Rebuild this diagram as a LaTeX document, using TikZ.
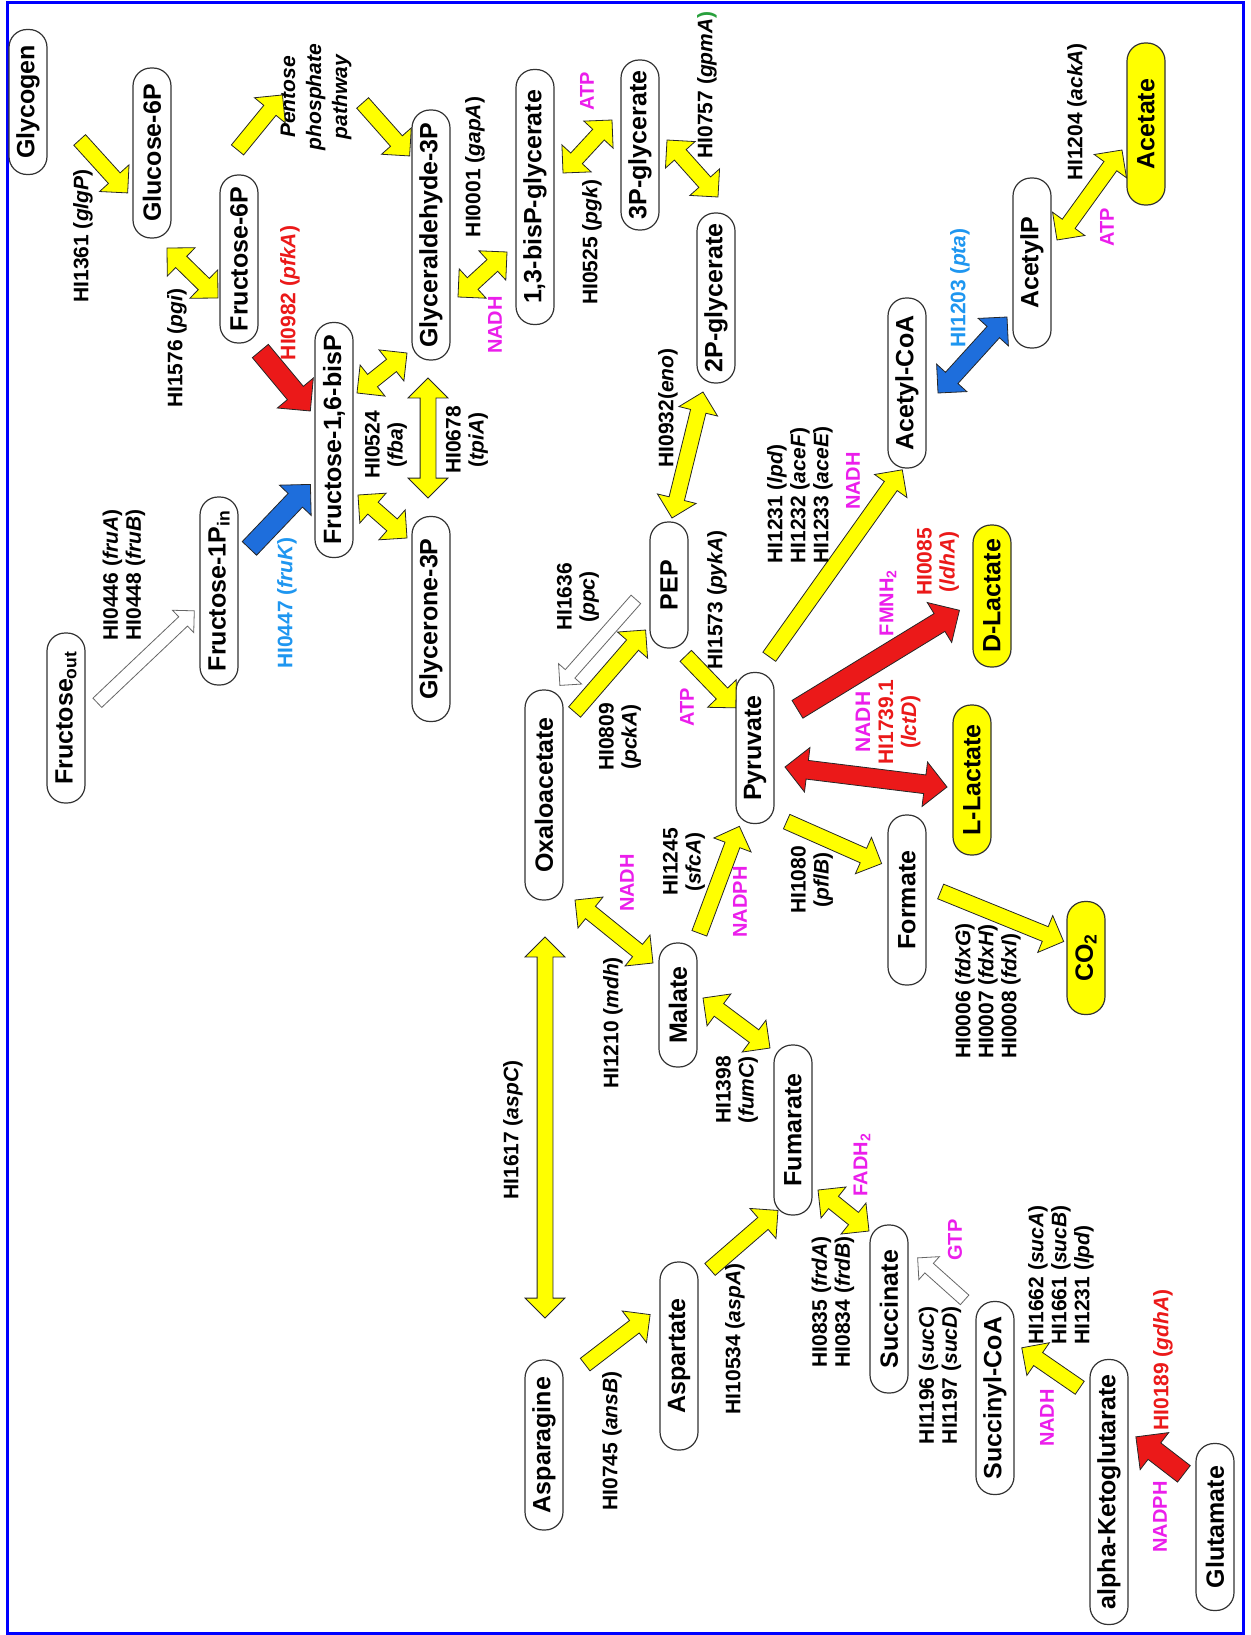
\documentclass[tikz,border=0pt]{standalone}
\usepackage{fontspec}
\setmainfont{Liberation Sans}
\usetikzlibrary{shapes.arrows,calc}
\definecolor{ylw}{RGB}{255,255,0}
\definecolor{rd}{RGB}{235,25,25}
\definecolor{bl}{RGB}{30,110,220}
\definecolor{ltbl}{RGB}{30,150,240}
\definecolor{mag}{RGB}{235,30,235}
\definecolor{frm}{RGB}{0,0,255}
\definecolor{grn}{RGB}{40,160,60}
\newcommand\blk[3]{\path let \p1=($(#3)-(#2)$), \n1={atan2(\y1,\x1)}, \n2={veclen(\x1,\y1)} in
  node[#1, minimum height=\n2, rotate=\n1] at ($(#2)!0.5!(#3)$) {};}
\tikzset{
  met/.style={draw=black!80, line width=1.2pt, fill=white, rounded corners=18pt, minimum height=38pt,
    inner sep=0pt, rotate=90, font=\fontsize{25}{28}\selectfont\bfseries},
  ymet/.style={met, fill=ylw},
  gene/.style={rotate=90, font=\fontsize{21}{23}\selectfont\bfseries, inner sep=0pt, align=center},
  cof/.style={rotate=90, font=\fontsize{20}{23}\selectfont\bfseries, text=mag, inner sep=0pt},
  arrbase/.style={draw=black!85, line width=0.8pt, inner xsep=0pt, outer sep=0pt},
  ys/.style={arrbase, single arrow, inner ysep=7.5pt, single arrow head extend=12pt, single arrow tip angle=90, fill=ylw},
  yd/.style={arrbase, double arrow, inner ysep=7.5pt, double arrow head extend=12pt, double arrow tip angle=90, fill=ylw},
  rs/.style={arrbase, single arrow, inner ysep=10pt, single arrow head extend=13pt, single arrow tip angle=90, fill=rd},
  rdd/.style={arrbase, double arrow, inner ysep=9pt, double arrow head extend=13pt, double arrow tip angle=90, fill=rd},
  bs/.style={arrbase, single arrow, inner ysep=9.5pt, single arrow head extend=12pt, single arrow tip angle=90, fill=bl},
  bdd/.style={arrbase, double arrow, inner ysep=8pt, double arrow head extend=12pt, double arrow tip angle=90, fill=bl},
  ws/.style={arrbase, draw=black!60, single arrow, inner ysep=6pt, single arrow head extend=9pt, single arrow tip angle=90, fill=white},
}
\begin{document}
\begin{tikzpicture}[x=1pt,y=-1pt]
\useasboundingbox (0,0) rectangle (1250,1635);
\draw[frm, line width=3pt] (7,3) rectangle (1243,1633);

% metabolites
\node[met, minimum width=145pt] (glycogen) at (28,102) {Glycogen};
\node[met, minimum width=170pt] (g6p) at (152,153) {Glucose-6P};
\node[met, minimum width=168pt] (f6p) at (239,259) {Fructose-6P};
\node[met, minimum width=235pt] (fbp) at (334,440) {Fructose-1,6-bisP};
\node[met, minimum width=250pt] (gap) at (431,235) {Glyceraldehyde-3P};
\node[met, minimum width=205pt] (dhap) at (431,619) {Glycerone-3P};
\node[met, minimum width=255pt] (bpg) at (535,197) {1,3-bisP-glycerate};
\node[met, minimum width=170pt] (pg3) at (640,145) {3P-glycerate};
\node[met, minimum width=170pt] (pg2) at (716,298) {2P-glycerate};
\node[met, minimum width=170pt] (fruout) at (66,718) {Fructose\textsubscript{out}};
\node[met, minimum width=188pt] (fru1p) at (219,591) {Fructose-1P\textsubscript{in}};
\node[met, minimum width=126pt] (pep) at (669,585) {PEP};
\node[met, minimum width=210pt] (oaa) at (544,795) {Oxaloacetate};
\node[met, minimum width=151pt] (pyr) at (755,748) {Pyruvate};
\node[met, minimum width=170pt] (acoa) at (907,383) {Acetyl-CoA};
\node[met, minimum width=170pt] (acp) at (1032,263) {AcetylP};
\node[ymet, minimum width=162pt] (ace) at (1146,124) {Acetate};
\node[ymet, minimum width=142pt] (dlac) at (992,596) {D-Lactate};
\node[ymet, minimum width=150pt] (llac) at (972,780) {L-Lactate};
\node[met, minimum width=170pt] (form) at (907,900) {Formate};
\node[ymet, minimum width=113pt] (co2) at (1086,958) {CO\textsubscript{2}};
\node[met, minimum width=124pt] (mal) at (678,1005) {Malate};
\node[met, minimum width=170pt] (fum) at (793,1130) {Fumarate};
\node[met, minimum width=170pt] (asn) at (544,1445) {Asparagine};
\node[met, minimum width=188pt] (asp) at (679,1356) {Aspartate};
\node[met, minimum width=168pt] (suc) at (889,1309) {Succinate};
\node[met, minimum width=193pt] (sca) at (995,1398) {Succinyl-CoA};
\node[met, minimum width=265pt] (akg) at (1109,1492) {alpha-Ketoglutarate};
\node[met, minimum width=167pt] (glu) at (1215,1527) {Glutamate};
\node[gene, font=\fontsize{21}{26}\selectfont\bfseries\itshape] (ppp) at (316,97) {Pentose\\phosphate\\pathway};

% arrow end points
\coordinate (c1a) at (77,137);   \coordinate (c1b) at (125,190);
\coordinate (c2a) at (167,248);  \coordinate (c2b) at (218,298);
\coordinate (c3a) at (235,153);  \coordinate (c3b) at (280,98);
\coordinate (c4a) at (360,100);  \coordinate (c4b) at (407,153);
\coordinate (c5a) at (257,347);  \coordinate (c5b) at (307,407);
\coordinate (c6a) at (357,393);  \coordinate (c6b) at (407,353);
\coordinate (c7a) at (358,495);  \coordinate (c7b) at (407,538);
\coordinate (c8a) at (428,378);  \coordinate (c8b) at (428,498);
\coordinate (c9a) at (458,297);  \coordinate (c9b) at (507,252);
\coordinate (c10a) at (563,173); \coordinate (c10b) at (612,120);
\coordinate (c11a) at (667,140); \coordinate (c11b) at (718,197);
\coordinate (c12a) at (703,392); \coordinate (c12b) at (672,518);
\coordinate (c13a) at (638,597); \coordinate (c13b) at (562,683);
\coordinate (c14a) at (572,715); \coordinate (c14b) at (643,633);
\coordinate (c15a) at (683,653); \coordinate (c15b) at (733,705);
\coordinate (c16a) at (767,660); \coordinate (c16b) at (900,473);
\coordinate (c17a) at (938,393); \coordinate (c17b) at (1007,317);
\coordinate (c18a) at (1057,240);\coordinate (c18b) at (1122,150);
\coordinate (c19a) at (793,712); \coordinate (c19b) at (955,613);
\coordinate (c20a) at (785,767); \coordinate (c20b) at (947,787);
\coordinate (c21a) at (783,820); \coordinate (c21b) at (878,862);
\coordinate (c22a) at (937,890); \coordinate (c22b) at (1060,940);
\coordinate (c23a) at (575,900); \coordinate (c23b) at (653,963);
\coordinate (c24a) at (698,937); \coordinate (c24b) at (738,830);
\coordinate (c25a) at (703,998); \coordinate (c25b) at (770,1048);
\coordinate (c26a) at (545,937); \coordinate (c26b) at (545,1318);
\coordinate (c27a) at (582,1367);\coordinate (c27b) at (647,1317);
\coordinate (c28a) at (707,1272);\coordinate (c28b) at (775,1213);
\coordinate (c29a) at (818,1190);\coordinate (c29b) at (869,1231);
\coordinate (c30a) at (967,1302);\coordinate (c30b) at (920,1260);
\coordinate (c31a) at (1083,1390);\coordinate (c31b) at (1025,1350);
\coordinate (c32a) at (1188,1477);\coordinate (c32b) at (1140,1440);
\coordinate (c33a) at (95,705);  \coordinate (c33b) at (192,613);
\coordinate (c34a) at (246,552); \coordinate (c34b) at (307,488);

% arrows
\blk{ys}{c1a}{c1b}
\blk{yd}{c2a}{c2b}
\blk{ys}{c3a}{c3b}
\blk{ys}{c4a}{c4b}
\blk{rs}{c5a}{c5b}
\blk{yd}{c6a}{c6b}
\blk{yd}{c7a}{c7b}
\blk{yd}{c8a}{c8b}
\blk{yd}{c9a}{c9b}
\blk{yd}{c10a}{c10b}
\blk{yd}{c11a}{c11b}
\blk{yd}{c12a}{c12b}
\blk{ws}{c13a}{c13b}
\blk{ys}{c14a}{c14b}
\blk{ys}{c15a}{c15b}
\blk{ys}{c16a}{c16b}
\blk{bdd}{c17a}{c17b}
\blk{yd}{c18a}{c18b}
\blk{rs}{c19a}{c19b}
\blk{rdd}{c20a}{c20b}
\blk{ys}{c21a}{c21b}
\blk{ys}{c22a}{c22b}
\blk{yd}{c23a}{c23b}
\blk{ys}{c24a}{c24b}
\blk{yd}{c25a}{c25b}
\blk{yd}{c26a}{c26b}
\blk{ys}{c27a}{c27b}
\blk{ys}{c28a}{c28b}
\blk{yd}{c29a}{c29b}
\blk{ws}{c30a}{c30b}
\blk{ys}{c31a}{c31b}
\blk{rs}{c32a}{c32b}
\blk{ws}{c33a}{c33b}
\blk{bs}{c34a}{c34b}

% enzyme labels
\node[gene] (l1) at (83,236) {HI1361 (\textit{glgP})};
\node[gene] (l2) at (177,348) {HI1576 (\textit{pgi})};
\node[gene, text=rd] (l3) at (290,293) {HI0982 (\textit{pfkA})};
\node[gene] (l4) at (475,167) {HI0001 (\textit{gapA})};
\node[cof] (l5) at (495,325) {NADH};
\node[gene] (l6) at (592,242) {HI0525 (\textit{pgk})};
\node[cof] (l7) at (587,91) {ATP};
\node[gene] (l8) at (707,85) {HI0757 (\textit{gpmA}\textcolor{grn}{)}};
\node[gene] (l9) at (668,408) {HI0932(\textit{eno})};
\node[gene, align=left] (l10) at (124,575) {HI0446 (\textit{fruA})\\HI0448 (\textit{fruB})};
\node[gene, text=ltbl] (l11) at (287,603) {HI0447 (\textit{fruK})};
\node[gene] (l12) at (386,445) {HI0524\\(\textit{fba})};
\node[gene] (l13) at (467,440) {HI0678\\(\textit{tpiA})};
\node[gene] (l14) at (578,597) {HI1636\\(\textit{ppc})};
\node[gene] (l15) at (620,737) {HI0809\\(\textit{pckA})};
\node[gene] (l16) at (717,600) {HI1573 (\textit{pykA})};
\node[cof] (l17) at (687,707) {ATP};
\node[gene, align=left] (l18) at (800,495) {HI1231 (\textit{lpd})\\HI1232 (\textit{aceF})\\HI1233 (\textit{aceE})};
\node[cof] (l19) at (853,481) {NADH};
\node[cof] (l20) at (888,603) {FMNH\textsubscript{2}};
\node[gene, text=rd] (l21) at (938,562) {HI0085\\(\textit{ldhA})};
\node[gene] (l22) at (888,722) {\textcolor{mag}{NADH}\\\textcolor{rd}{HI1739.1}\\\textcolor{rd}{(\textit{lctD})}};
\node[gene] (l23) at (1077,112) {HI1204 (\textit{ackA})};
\node[cof] (l24) at (1107,227) {ATP};
\node[gene, text=ltbl] (l25) at (960,288) {HI1203 (\textit{pta})};
\node[cof] (l26) at (627,883) {NADH};
\node[gene] (l27) at (684,862) {HI1245\\(\textit{sfcA})};
\node[cof] (l28) at (740,902) {NADPH};
\node[gene] (l29) at (613,1023) {HI1210 (\textit{mdh})};
\node[gene] (l30) at (513,1130) {HI1617 (\textit{aspC})};
\node[gene] (l31) at (737,1090) {HI1398\\(\textit{fumC})};
\node[gene] (l32) at (812,880) {HI1080\\(\textit{pflB})};
\node[gene, align=left] (l33) at (988,991) {HI0006 (\textit{fdxG})\\HI0007 (\textit{fdxH})\\HI0008 (\textit{fdxI})};
\node[cof] (l34) at (862,1165) {FADH\textsubscript{2}};
\node[gene] (l35) at (612,1441) {HI0745 (\textit{ansB})};
\node[gene] (l36) at (735,1339) {HI10534 (\textit{aspA})};
\node[gene, align=left] (l37) at (833,1302) {HI0835 (\textit{frdA})\\HI0834 (\textit{frdB})};
\node[cof] (l38) at (955,1240) {GTP};
\node[gene, align=left] (l39) at (940,1375) {HI1196 (\textit{sucC})\\HI1197 (\textit{sucD})};
\node[gene, align=left] (l40) at (1061,1275) {HI1662 (\textit{sucA})\\HI1661 (\textit{sucB})\\HI1231 (\textit{lpd})};
\node[cof] (l41) at (1047,1418) {NADH};
\node[gene, text=rd] (l42) at (1163,1360) {HI0189 (\textit{gdhA})};
\node[cof] (l43) at (1160,1517) {NADPH};
\end{tikzpicture}
\end{document}
